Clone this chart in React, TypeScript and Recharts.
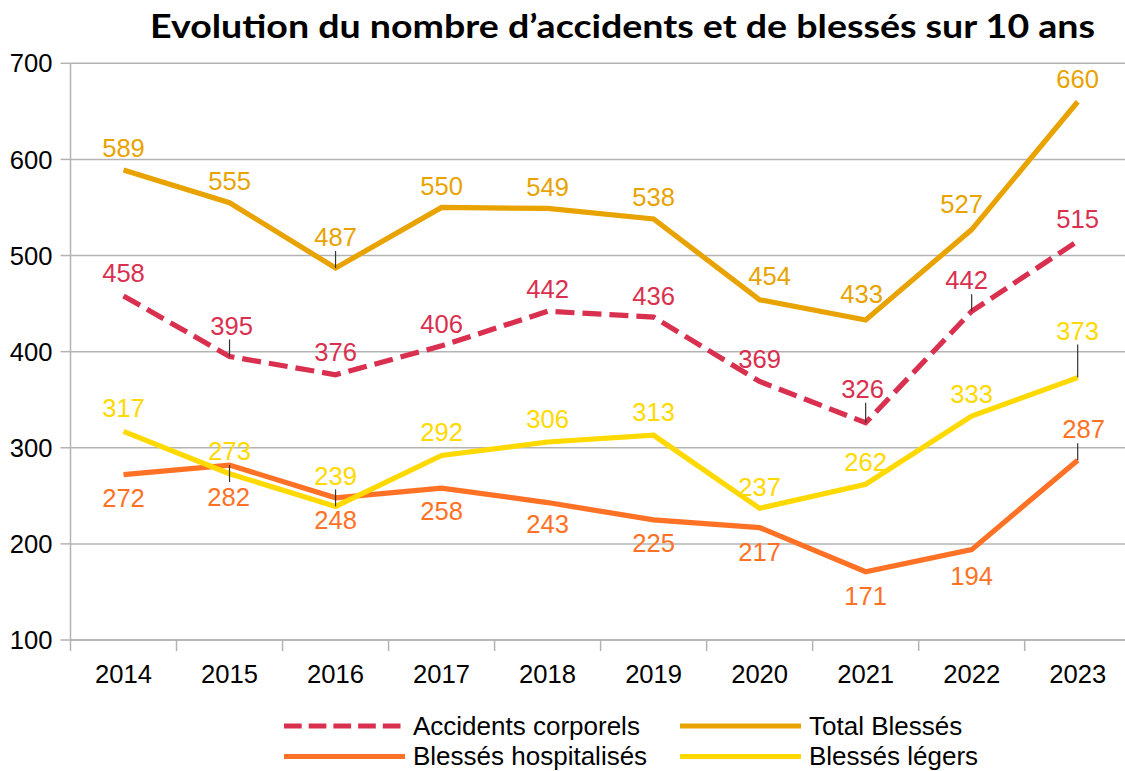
import React from 'react';
import { LineChart, Line, XAxis, YAxis, CartesianGrid, LabelList, Legend } from 'recharts';

const years = ['2014', '2015', '2016', '2017', '2018', '2019', '2020', '2021', '2022', '2023'];
const accidents = [458, 395, 376, 406, 442, 436, 369, 326, 442, 515];
const totalBlesses = [589, 555, 487, 550, 549, 538, 454, 433, 527, 660];
const hospitalises = [272, 282, 248, 258, 243, 225, 217, 171, 194, 287];
const legers = [317, 273, 239, 292, 306, 313, 237, 262, 333, 373];
const yTicks = [100, 200, 300, 400, 500, 600, 700];
const seriesNames = ['Accidents corporels', 'Total Blessés', 'Blessés hospitalisés', 'Blessés légers'];
const title = 'Evolution du nombre d\u2019accidents et de blessés sur 10 ans';

const C_ACC = '#d9304f';
const C_TOT = '#e8a300';
const C_HOS = '#ff7226';
const C_LEG = '#ffd900';
const GRID = '#b3b3b3';
const FONT = '"Liberation Sans", Arial, sans-serif';
const FS = 25.6;

// label placement (dx, dy from point to label centre, leader line flag)
const accOffsets: [number, number, number][] = [
  [0, -23, 0], [2, -31, 1], [0, -23, 0], [0, -22, 0], [0, -22, 0], [0, -21, 0], [0, -23, 0], [-3, -34, 1], [-5, -31, 1], [0, -22, 0],
];
const totOffsets: [number, number, number][] = [
  [0, -22, 0], [0, -22, 0], [0, -31, 1], [0, -22, 0], [0, -22, 0], [0, -22, 0], [10, -24, 0], [-4, -26, 0], [-10, -26, 0], [0, -23, 0],
];
const hosOffsets: [number, number, number][] = [
  [0, 23, 0], [-1, 32, 1], [0, 22, 0], [0, 23, 0], [0, 21, 0], [0, 23, 0], [0, 24, 0], [0, 24, 0], [0, 26, 0], [6, -31, 1],
];
const legOffsets: [number, number, number][] = [
  [0, -24, 0], [0, -23, 0], [0, -31, 1], [0, -24, 0], [0, -23, 0], [0, -23, 0], [0, -22, 0], [0, -22, 0], [0, -22, 0], [0, -47, 1],
];

const data = years.map((year, i) => ({
  year,
  accidents: accidents[i],
  total: totalBlesses[i],
  hospitalises: hospitalises[i],
  legers: legers[i],
}));

const makeLabel = (color: string, offsets: [number, number, number][]) => (props: any) => {
  const px = props.x ?? props.viewBox?.x;
  const py = props.y ?? props.viewBox?.y;
  const index = props.index ?? 0;
  const value = props.value;
  if (px == null || py == null) return null;
  const [dx, dy, leader] = offsets[index] || [0, -22, 0];
  const cx = px + dx;
  const cy = py + dy;
  let lead = null;
  if (leader) {
    lead = dy < 0
      ? <line x1={px} x2={px} y1={cy + 14} y2={py} stroke="#333" strokeWidth={1.2} />
      : <line x1={px} x2={px} y1={py} y2={cy - 15} stroke="#333" strokeWidth={1.2} />;
  }
  return (
    <g>
      {lead}
      <text x={cx} y={cy + 9.2} textAnchor="middle" fill={color} fontSize={FS} fontFamily={FONT}>{value}</text>
    </g>
  );
};

const XTick = (props: any) => {
  const { x, y, payload } = props;
  const off = payload?.offset ?? 0;
  return (
    <g>
      <line x1={x - off} x2={x - off} y1={y} y2={y + 11} stroke={GRID} strokeWidth={1.5} />
      {payload?.index === years.length - 1 ? (
        <line x1={x + off} x2={x + off} y1={y} y2={y + 11} stroke={GRID} strokeWidth={1.5} />
      ) : null}
      <text x={x} y={y + 43.3} textAnchor="middle" fill="#000" fontSize={FS} fontFamily={FONT}>{payload?.value}</text>
    </g>
  );
};

const LegendContent = (props: any) => {
  const payload = props.payload || [];
  return (
    <svg width={1125} height={71} style={{ display: 'block' }}>
      {seriesNames.map((name, i) => {
        const p = payload.find((e: any) => e.value === name) || {};
        const col = i % 2;
        const row = Math.floor(i / 2);
        const x1 = col === 0 ? 284 : 680;
        const ly = row === 0 ? 26 : 56.5;
        const ty = row === 0 ? 35.2 : 65.2;
        const dashed = i === 0;
        return (
          <g key={i}>
            <line x1={x1} x2={x1 + 121} y1={ly} y2={ly} stroke={p.color} strokeWidth={5}
              strokeDasharray={dashed ? '17.7 7' : undefined} />
            <text x={x1 + 129} y={ty} fill="#000" fontSize={26} fontFamily={FONT}>{name}</text>
          </g>
        );
      })}
    </svg>
  );
};

export default function App() {
  return (
    <div style={{ position: 'fixed', left: 0, top: 0, width: 1125, height: 771, overflow: 'hidden', background: '#fff' }}>
      <svg width={1125} height={60} style={{ position: 'absolute', left: 0, top: 0 }}>
        <text x={150} y={37.7} textLength={945} lengthAdjust="spacingAndGlyphs" fontSize={33} fontWeight={700}
          fontFamily="Lato, 'Open Sans', sans-serif" fill="#000">{title}</text>
      </svg>
      <div style={{ position: 'absolute', left: 0, top: 0 }}>
        <LineChart width={1135} height={771} data={data} margin={{ top: 63.3, right: 4.3, left: 0, bottom: 81 }}>
          <CartesianGrid vertical={false} stroke={GRID} strokeWidth={1.5} />
          <XAxis dataKey="year" scale="band" height={50} tickLine={false} tickSize={0} tickMargin={0}
            axisLine={{ stroke: GRID, strokeWidth: 1.5 }} tick={<XTick />} interval={0} />
          <YAxis width={70.5} domain={[100, 700]} ticks={yTicks} type="number" allowDataOverflow
            tickSize={10} tickMargin={8} axisLine={{ stroke: GRID, strokeWidth: 1.5 }}
            tickLine={{ stroke: GRID, strokeWidth: 1.5 }}
            tick={{ fill: '#000', fontSize: FS, fontFamily: FONT }} />
          <Legend layout="horizontal" verticalAlign="middle" align="center"
            wrapperStyle={{ position: 'absolute', left: 0, top: 700, width: 1125, height: 71 }}
            content={<LegendContent />} />
          <Line name={seriesNames[0]} dataKey="accidents" stroke={C_ACC} strokeWidth={5.2} strokeDasharray="19 8"
            dot={false} activeDot={false} isAnimationActive={false}>
            <LabelList dataKey="accidents" content={makeLabel(C_ACC, accOffsets)} />
          </Line>
          <Line name={seriesNames[1]} dataKey="total" stroke={C_TOT} strokeWidth={5.2}
            dot={false} activeDot={false} isAnimationActive={false}>
            <LabelList dataKey="total" content={makeLabel(C_TOT, totOffsets)} />
          </Line>
          <Line name={seriesNames[2]} dataKey="hospitalises" stroke={C_HOS} strokeWidth={5.2}
            dot={false} activeDot={false} isAnimationActive={false}>
            <LabelList dataKey="hospitalises" content={makeLabel(C_HOS, hosOffsets)} />
          </Line>
          <Line name={seriesNames[3]} dataKey="legers" stroke={C_LEG} strokeWidth={5.2}
            dot={false} activeDot={false} isAnimationActive={false}>
            <LabelList dataKey="legers" content={makeLabel(C_LEG, legOffsets)} />
          </Line>
        </LineChart>
      </div>
    </div>
  );
}
